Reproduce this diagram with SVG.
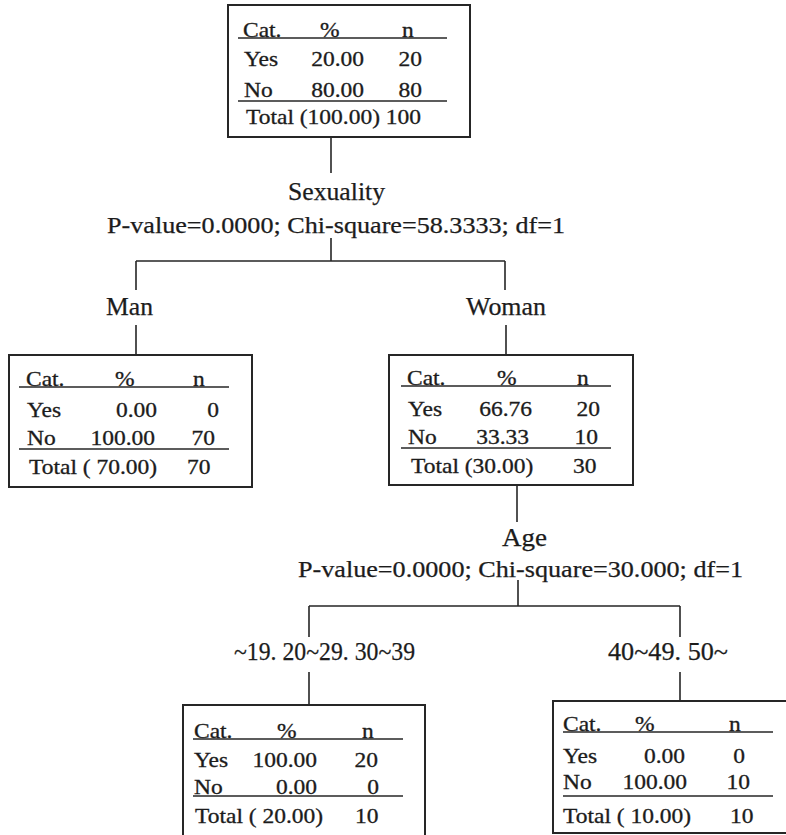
<svg xmlns="http://www.w3.org/2000/svg" width="786" height="835" viewBox="0 0 786 835">
<style>
.bg{fill:#ffffff}
.box{fill:none;stroke:#262626;stroke-width:2}
.rule{stroke:#262626;stroke-width:1.6}
.ln{fill:none;stroke:#262626;stroke-width:1.6}
.t{font-family:"Liberation Serif","Times New Roman",serif;font-size:20.5px;fill:#1c1c1c;stroke:#1c1c1c;stroke-width:0.3}
.r{text-anchor:end}
.lab{font-family:"Liberation Serif","Times New Roman",serif;font-size:25px;fill:#1c1c1c;stroke:#1c1c1c;stroke-width:0.25}
.st{font-family:"Liberation Serif","Times New Roman",serif;font-size:23px;fill:#1c1c1c;stroke:#1c1c1c;stroke-width:0.25}
</style>
<rect class="bg" x="0" y="0" width="786" height="835"/>

<g id="connectors">
  <path class="ln" d="M331 137V173"/>
  <path class="ln" d="M331 238V261M136 261H505M136 261V290M505 261V290"/>
  <path class="ln" d="M136 325V355M506 325V355"/>
  <path class="ln" d="M517 485V522"/>
  <path class="ln" d="M518 580V606M309 606H680M309 606V637M680 606V637"/>
  <path class="ln" d="M309 672V705M680 672V701"/>
</g>

<g id="split-sexuality">
  <text class="lab" x="288" y="200" textLength="97" lengthAdjust="spacingAndGlyphs">Sexuality</text>
  <text class="st" x="107" y="233" textLength="458" lengthAdjust="spacingAndGlyphs">P-value=0.0000; Chi-square=58.3333; df=1</text>
</g>
<g id="label-man"><text class="lab" x="106" y="315" textLength="47" lengthAdjust="spacingAndGlyphs">Man</text></g>
<g id="label-woman"><text class="lab" x="466" y="315" textLength="80" lengthAdjust="spacingAndGlyphs">Woman</text></g>
<g id="split-age">
  <text class="lab" x="502" y="546" textLength="45" lengthAdjust="spacingAndGlyphs">Age</text>
  <text class="st" x="298" y="577" textLength="445" lengthAdjust="spacingAndGlyphs">P-value=0.0000; Chi-square=30.000; df=1</text>
</g>
<g id="label-young"><text class="lab" x="234" y="660" textLength="181" lengthAdjust="spacingAndGlyphs">~19. 20~29. 30~39</text></g>
<g id="label-old"><text class="lab" x="608" y="660" textLength="120" lengthAdjust="spacingAndGlyphs">40~49. 50~</text></g>

<g id="node-root">
  <rect class="box" x="228" y="5" width="242" height="132"/>
  <line class="rule" x1="238" y1="38" x2="447" y2="38"/>
  <line class="rule" x1="238" y1="101" x2="447" y2="101"/>
  <text class="t" transform="translate(243 37) scale(1.146 1)">Cat.</text>
  <text class="t" transform="translate(320 37) scale(1.146 1)">%</text>
  <text class="t" transform="translate(402 37) scale(1.146 1)">n</text>
  <text class="t" transform="translate(244 66) scale(1.146 1)">Yes</text>
  <text class="t r" transform="translate(364 66) scale(1.146 1)">20.00</text>
  <text class="t r" transform="translate(422 66) scale(1.146 1)">20</text>
  <text class="t" transform="translate(244 97) scale(1.146 1)">No</text>
  <text class="t r" transform="translate(364 97) scale(1.146 1)">80.00</text>
  <text class="t r" transform="translate(422 97) scale(1.146 1)">80</text>
  <text class="t" transform="translate(246 124) scale(1.146 1)">Total (100.00) 100</text>
</g>

<g id="node-man">
  <rect class="box" x="9" y="355" width="243" height="132"/>
  <line class="rule" x1="19" y1="387" x2="229" y2="387"/>
  <line class="rule" x1="19" y1="449" x2="229" y2="449"/>
  <text class="t" transform="translate(26 386) scale(1.146 1)">Cat.</text>
  <text class="t" transform="translate(115 386) scale(1.146 1)">%</text>
  <text class="t" transform="translate(193 386) scale(1.146 1)">n</text>
  <text class="t" transform="translate(27 417) scale(1.146 1)">Yes</text>
  <text class="t r" transform="translate(157 417) scale(1.146 1)">0.00</text>
  <text class="t r" transform="translate(219 417) scale(1.146 1)">0</text>
  <text class="t" transform="translate(27 445) scale(1.146 1)">No</text>
  <text class="t r" transform="translate(155 445) scale(1.146 1)">100.00</text>
  <text class="t r" transform="translate(215 445) scale(1.146 1)">70</text>
  <text class="t" transform="translate(29 474) scale(1.146 1)">Total ( 70.00)</text>
  <text class="t" transform="translate(187 474) scale(1.146 1)">70</text>
</g>

<g id="node-woman">
  <rect class="box" x="389" y="355" width="244" height="130"/>
  <line class="rule" x1="401" y1="386" x2="611" y2="386"/>
  <line class="rule" x1="401" y1="448" x2="611" y2="448"/>
  <text class="t" transform="translate(407 385) scale(1.146 1)">Cat.</text>
  <text class="t" transform="translate(497 385) scale(1.146 1)">%</text>
  <text class="t" transform="translate(577 385) scale(1.146 1)">n</text>
  <text class="t" transform="translate(408 416) scale(1.146 1)">Yes</text>
  <text class="t r" transform="translate(532 416) scale(1.146 1)">66.76</text>
  <text class="t r" transform="translate(600 416) scale(1.146 1)">20</text>
  <text class="t" transform="translate(408 444) scale(1.146 1)">No</text>
  <text class="t r" transform="translate(529 444) scale(1.146 1)">33.33</text>
  <text class="t r" transform="translate(598 444) scale(1.146 1)">10</text>
  <text class="t" transform="translate(411 473) scale(1.146 1)">Total (30.00)</text>
  <text class="t" transform="translate(573 473) scale(1.146 1)">30</text>
</g>

<g id="node-young">
  <rect class="box" x="183" y="705" width="242" height="140"/>
  <line class="rule" x1="193" y1="739" x2="403" y2="739"/>
  <line class="rule" x1="193" y1="796" x2="403" y2="796"/>
  <text class="t" transform="translate(194 738) scale(1.146 1)">Cat.</text>
  <text class="t" transform="translate(277 738) scale(1.146 1)">%</text>
  <text class="t" transform="translate(362 738) scale(1.146 1)">n</text>
  <text class="t" transform="translate(194 767) scale(1.146 1)">Yes</text>
  <text class="t r" transform="translate(317 767) scale(1.146 1)">100.00</text>
  <text class="t r" transform="translate(378 767) scale(1.146 1)">20</text>
  <text class="t" transform="translate(194 794) scale(1.146 1)">No</text>
  <text class="t r" transform="translate(317 794) scale(1.146 1)">0.00</text>
  <text class="t r" transform="translate(379 794) scale(1.146 1)">0</text>
  <text class="t" transform="translate(195 823) scale(1.146 1)">Total ( 20.00)</text>
  <text class="t" transform="translate(355 823) scale(1.146 1)">10</text>
</g>

<g id="node-old">
  <rect class="box" x="553" y="701" width="250" height="132"/>
  <line class="rule" x1="563" y1="732" x2="773" y2="732"/>
  <line class="rule" x1="563" y1="796" x2="773" y2="796"/>
  <text class="t" transform="translate(563 731) scale(1.146 1)">Cat.</text>
  <text class="t" transform="translate(635 731) scale(1.146 1)">%</text>
  <text class="t" transform="translate(729 731) scale(1.146 1)">n</text>
  <text class="t" transform="translate(563 763) scale(1.146 1)">Yes</text>
  <text class="t r" transform="translate(685 763) scale(1.146 1)">0.00</text>
  <text class="t r" transform="translate(745 763) scale(1.146 1)">0</text>
  <text class="t" transform="translate(563 789) scale(1.146 1)">No</text>
  <text class="t r" transform="translate(687 789) scale(1.146 1)">100.00</text>
  <text class="t r" transform="translate(750 789) scale(1.146 1)">10</text>
  <text class="t" transform="translate(563 823) scale(1.146 1)">Total ( 10.00)</text>
  <text class="t" transform="translate(730 823) scale(1.146 1)">10</text>
</g>
</svg>
